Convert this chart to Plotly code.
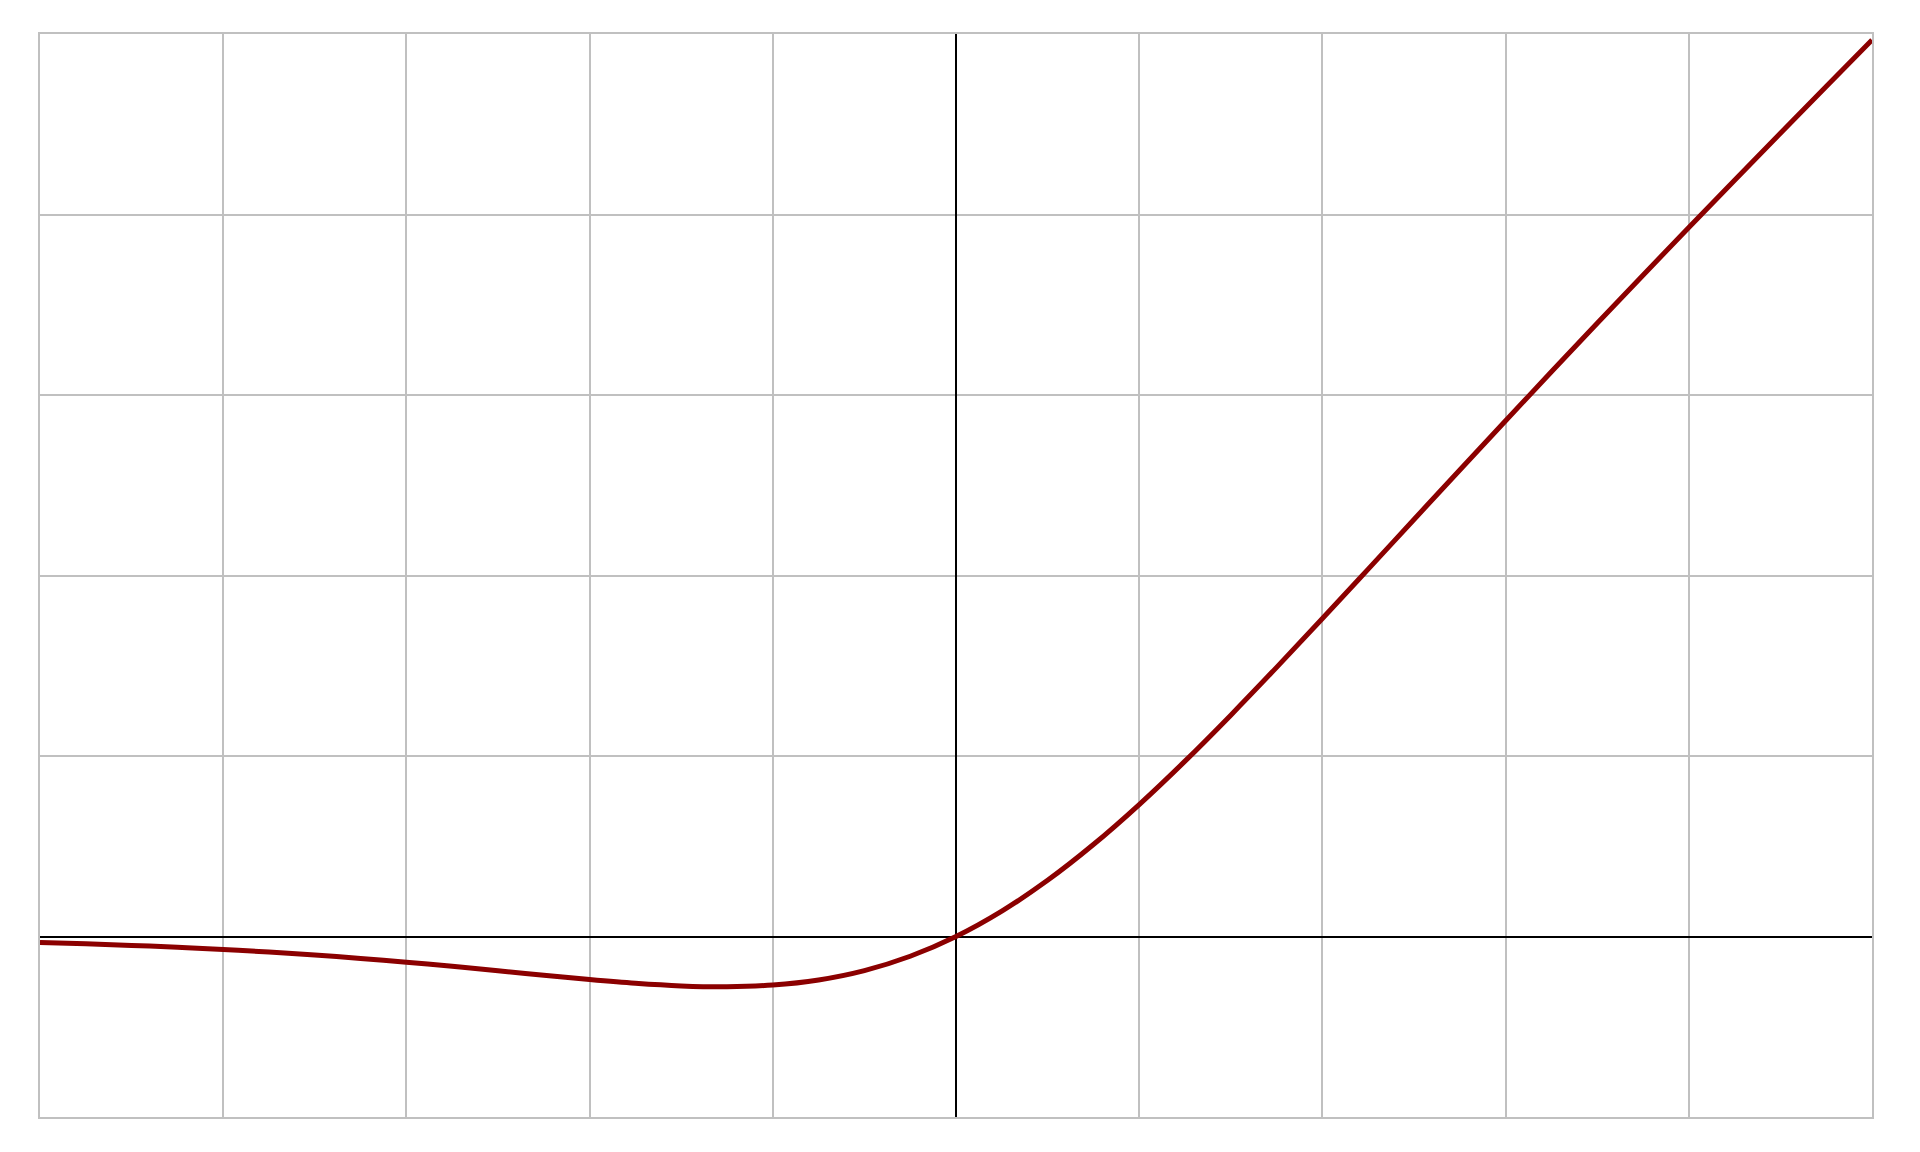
import plotly.graph_objects as go

x_vals = [-5.0, -4.75, -4.5, -4.25, -4.0, -3.75, -3.5, -3.25, -3.0, -2.75, -2.5, -2.25,
          -2.0, -1.75, -1.5, -1.25, -1.0, -0.75, -0.5, -0.25, 0.0, 0.25, 0.5, 0.75,
          1.0, 1.25, 1.5, 1.75, 2.0, 2.25, 2.5, 2.75, 3.0, 3.25, 3.5, 3.75, 4.0,
          4.25, 4.5, 4.75, 5.0]
y_vals = [-0.0335, -0.0407, -0.0494, -0.0598, -0.0719, -0.0862, -0.1026, -0.1213,
          -0.1423, -0.1652, -0.1896, -0.2145, -0.2384, -0.2591, -0.2736, -0.2784,
          -0.2689, -0.2406, -0.1888, -0.1095, 0.0, 0.1405, 0.3112, 0.5094, 0.7311,
          0.9716, 1.2264, 1.4909, 1.7616, 2.0355, 2.3104, 2.5848, 2.8577, 3.1287,
          3.3974, 3.6638, 3.9281, 4.1902, 4.4506, 4.7093, 4.9665]

fig = go.Figure()
fig.add_trace(go.Scatter(x=x_vals, y=y_vals, mode="lines",
                         line=dict(color="#8b0000", width=5, shape="spline"),
                         showlegend=False, hoverinfo="skip"))

axis_common = dict(showticklabels=False, ticks="", showgrid=True,
                   gridcolor="#c0c0c0", gridwidth=1.5,
                   zeroline=True, zerolinecolor="#000000", zerolinewidth=2,
                   showline=True, linecolor="#c0c0c0", linewidth=2, mirror=True)

fig.update_xaxes(range=[-5, 5], dtick=1, tick0=0, **axis_common)
fig.update_yaxes(range=[-1, 5], dtick=1, tick0=0, **axis_common)

fig.update_layout(width=1904, height=1136,
                  margin=dict(l=32, r=40, t=26, b=27),
                  plot_bgcolor="white", paper_bgcolor="white")

fig.write_html("out.html")
